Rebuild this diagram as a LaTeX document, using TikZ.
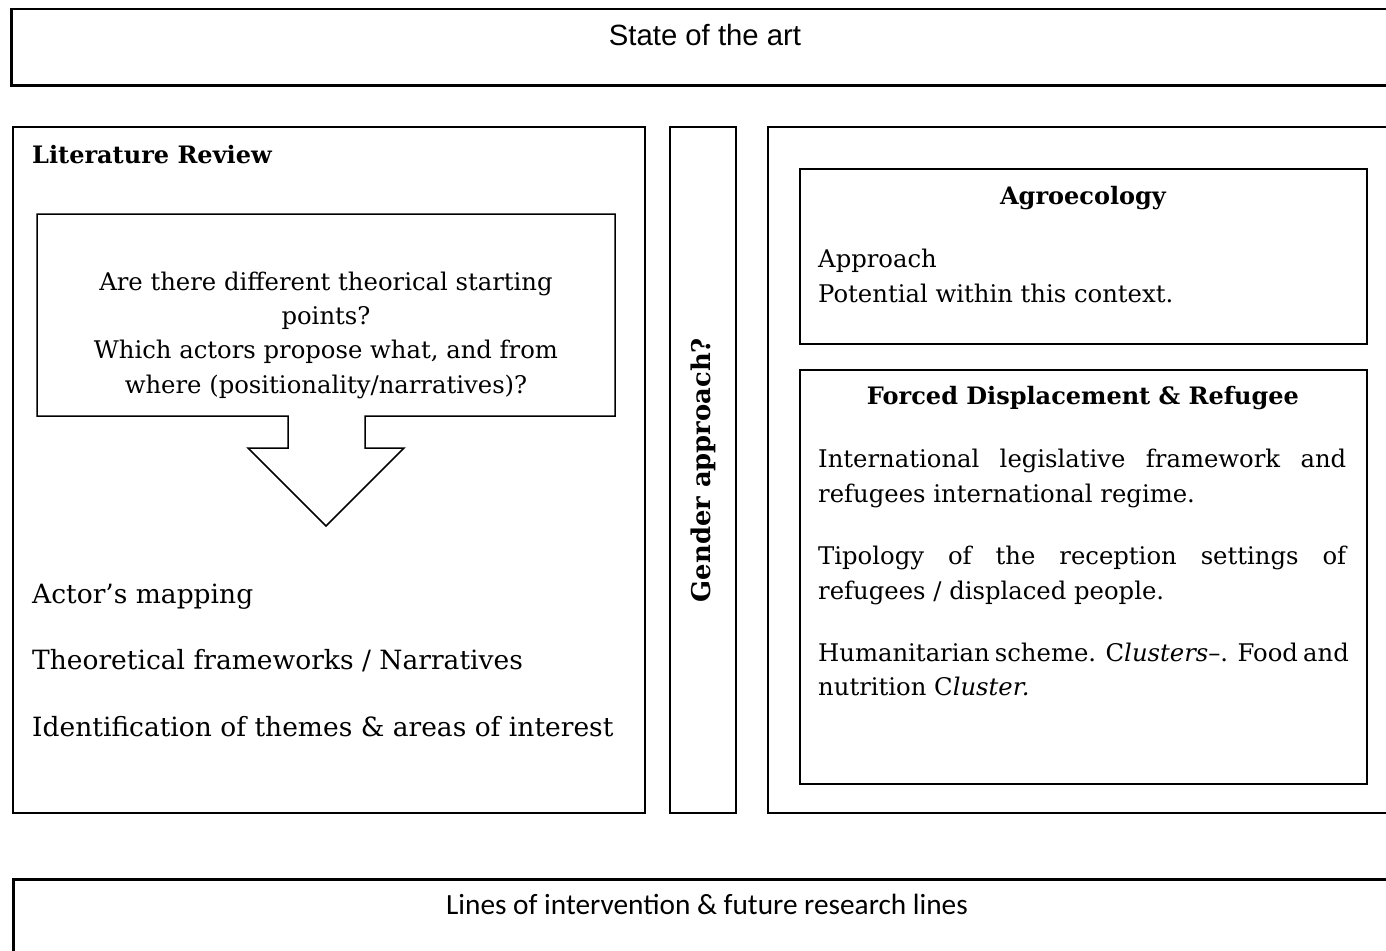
\documentclass[tikz,border=0pt]{standalone}
\usepackage{fontspec}
\setmainfont{DejaVu Serif}
\newfontfamily\arialf{Liberation Sans}
\newfontfamily\calf{Carlito}
\begin{document}
\begin{tikzpicture}[x=1pt,y=-1pt,
  panel/.style={draw, line width=2pt, inner sep=0pt, anchor=north west},
  outerbox/.style={draw, line width=2.5pt, inner sep=0pt, anchor=north west},
  innerbox/.style={draw, line width=1.8pt, inner sep=0pt, anchor=north west},
  lbl/.style={inner sep=0pt, anchor=base west},
  ctr/.style={inner sep=0pt, anchor=base},
  small/.style={font=\fontsize{24.3}{29}\selectfont},
  big/.style={font=\fontsize{26.5}{31}\selectfont},
  bsmall/.style={font=\fontsize{24}{29}\selectfont\bfseries},
]
\useasboundingbox (0,0) rectangle (1386,950);
\clip (0,0) rectangle (1386,950);

% outer boxes
\node (top) [outerbox, minimum width=1400pt, minimum height=76pt] at (10,8) {};
\node (bottom) [outerbox, minimum width=1400pt, minimum height=100pt] at (12,878) {};
\node[ctr, font=\arialf\fontsize{29.3}{34}\selectfont] (toptxt) at (705,46) {State of the art};
\node[ctr, font=\calf\fontsize{29.3}{34}\selectfont] (bottxt) at (707,914) {Lines of intervention \& future research lines};

% panels
\node (left) [panel, minimum width=632pt, minimum height=686pt] at (12,126) {};
\node (gender) [panel, minimum width=66pt, minimum height=686pt] at (669,126) {};
\node (right) [panel, minimum width=640pt, minimum height=686pt] at (767,126) {};

% left panel content
\node[lbl, bsmall] (litrev) at (32,163) {Literature Review};
\draw[line width=1.5pt, line join=miter] (37,214) -- (615,214) -- (615,416) -- (365,416) -- (365,448) -- (404,448)
  -- (326,526) -- (248,448) -- (288,448) -- (288,416) -- (37,416) -- cycle;
\node[ctr, small] (q1) at (326,290) {Are there different theorical starting};
\node[ctr, small] (q2) at (326,324) {points?};
\node[ctr, small] (q3) at (326,358) {Which actors propose what, and from};
\node[ctr, small] (q4) at (326,393) {where (positionality/narratives)?};
\node[lbl, big] (l1) at (32,603) {Actor’s mapping};
\node[lbl, big] (l2) at (32,669) {Theoretical frameworks / Narratives};
\node[lbl, big] (l3) at (32,736) {Identification of themes \& areas of interest};

% gender
\node[font=\fontsize{25.8}{30}\selectfont\bfseries, rotate=90, inner sep=0pt] (gtxt) at (gender.center) {Gender approach?};

% right panel content
\node (agro) [innerbox, minimum width=567pt, minimum height=175pt] at (799,168) {};
\node[ctr, bsmall] (agrot) at (1083,204) {Agroecology};
\node[lbl, small] (a1) at (818,267) {Approach};
\node[lbl, small] (a2) at (818,302) {Potential within this context.};

\node (forced) [innerbox, minimum width=567pt, minimum height=414pt] at (799,369) {};
\node[ctr, bsmall] (forcedt) at (1083,404) {Forced Displacement \& Refugee};
\node[lbl, small] (f1) at (818,467) {\makebox[528pt][s]{International legislative framework and}};
\node[lbl, small] (f2) at (818,502) {refugees international regime.};
\node[lbl, small] (f3) at (818,564) {\makebox[528pt][s]{Tipology of the reception settings of}};
\node[lbl, small] (f4) at (818,599) {refugees / displaced people.};
\node[lbl, small] (f5) at (818,661) {\makebox[528pt][s]{Humanitarian scheme. C\textit{lusters}–. Food and}};
\node[lbl, small] (f6) at (818,695) {nutrition C\textit{luster.}};
\end{tikzpicture}
\end{document}
